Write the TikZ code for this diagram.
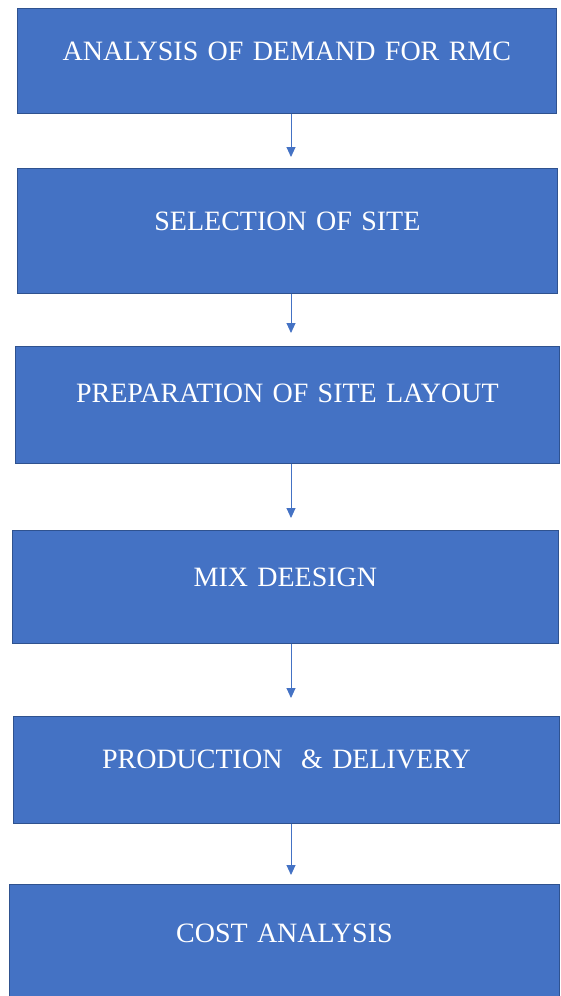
\documentclass[tikz,border=0pt]{standalone}
\usepackage{fontspec}
\setmainfont{Liberation Serif}
\usetikzlibrary{arrows.meta}
\definecolor{boxblue}{HTML}{4472C4}
\definecolor{boxedge}{HTML}{2F528F}
\begin{document}
\begin{tikzpicture}[x=1pt,y=-1pt,
    blk/.style={draw=boxedge,fill=boxblue,line width=0.8pt,inner sep=0pt,anchor=north west,
      align=center,text=white,font=\fontsize{28}{30}\selectfont},
    flow/.style={-{Triangle[width=9pt,length=10pt]},boxblue,line width=0.9pt}]
  \useasboundingbox(0,0)rectangle(561,996);
  \coordinate(ax)at(291,0);%矢印の列
  \node[blk,text width=539pt,text height=52pt,text depth=53pt](b1)at(17,8){ANALYSIS OF DEMAND FOR RMC};
  \node[blk,text width=540pt,text height=62pt,text depth=63pt](b2)at(17,168){SELECTION OF SITE};
  \node[blk,text width=544pt,text height=56pt,text depth=61pt](b3)at(15,346){PREPARATION OF SITE LAYOUT};
  \node[blk,text width=546pt,text height=56pt,text depth=57pt](b4)at(12,530){MIX DEESIGN};
  \node[blk,text width=546pt,text height=52pt,text depth=55pt](b5)at(13,716){PRODUCTION~~\& DELIVERY};
  \node[blk,text width=550pt,text height=58pt,text depth=58pt](b6)at(9,884){COST ANALYSIS};
  \draw[flow,shorten >=11pt](b1.south-|ax)--(b2.north-|ax);
  \draw[flow,shorten >=13pt](b2.south-|ax)--(b3.north-|ax);
  \draw[flow,shorten >=12pt](b3.south-|ax)--(b4.north-|ax);
  \draw[flow,shorten >=18pt](b4.south-|ax)--(b5.north-|ax);
  \draw[flow,shorten >=9pt](b5.south-|ax)--(b6.north-|ax);
\end{tikzpicture}
\end{document}
